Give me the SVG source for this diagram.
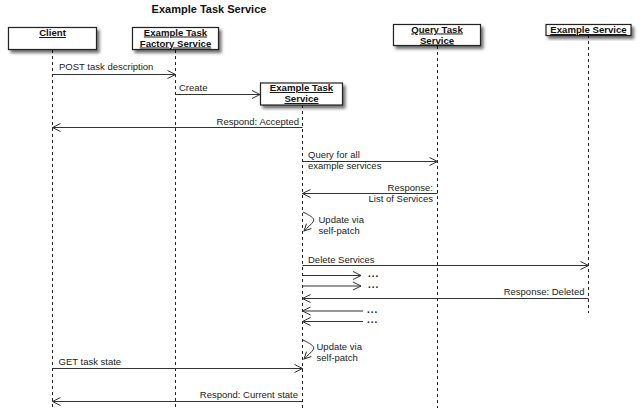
<svg xmlns="http://www.w3.org/2000/svg" width="640" height="414" viewBox="0 0 640 414">
<style>
.box{fill:#fff;stroke:#222;stroke-width:1.2;filter:url(#sh)}
.lbl{font-family:"Liberation Sans",Arial,sans-serif;font-size:9.6px;font-weight:bold;text-decoration:underline;fill:#111;text-anchor:middle}
.life{stroke:#222;stroke-width:1;stroke-dasharray:3,3;fill:none}
.msg{stroke:#333;stroke-width:1;fill:none;marker-end:url(#ah)}
.self{stroke:#333;stroke-width:1;fill:none;marker-end:url(#ahs)}
.t{font-family:"Liberation Sans",Arial,sans-serif;font-size:9.5px;fill:#222}
.r{text-anchor:end}
.dots{font-family:"Liberation Sans",Arial,sans-serif;font-size:10px;font-weight:bold;fill:#222;letter-spacing:1px}
.title{font-family:"Liberation Sans",Arial,sans-serif;font-size:11px;font-weight:bold;fill:#111;text-anchor:middle}
</style>
<defs>
<filter id="sh" x="-20%" y="-30%" width="150%" height="180%">
<feDropShadow dx="2.5" dy="3" stdDeviation="1.8" flood-color="#000" flood-opacity="0.55"/>
</filter>
<marker id="ah" markerUnits="userSpaceOnUse" viewBox="-1 -5 10 10" refX="8" refY="0" markerWidth="10" markerHeight="10" orient="auto">
<path d="M0,-4 L8,0 L0,4" fill="none" stroke="#333" stroke-width="1"/>
</marker>
<marker id="ahs" markerUnits="userSpaceOnUse" viewBox="-1 -5 10 10" refX="7" refY="0" markerWidth="10" markerHeight="10" orient="auto">
<path d="M0,-3.5 L7,0 L0,3.5" fill="none" stroke="#333" stroke-width="1"/>
</marker>
</defs>
<rect width="640" height="414" fill="#fff"/>
<text class="title" x="209" y="12.5">Example Task Service</text>

<g id="client">
<line class="life" x1="52.5" y1="50" x2="52.5" y2="409"/>
<rect class="box" x="8.5" y="27.5" width="88" height="22"/>
<text class="lbl" x="52.5" y="36">Client</text>
</g>
<g id="factory">
<line class="life" x1="175.5" y1="50" x2="175.5" y2="409"/>
<rect class="box" x="132.5" y="27.5" width="86" height="22"/>
<text class="lbl" x="175.5" y="35.5">Example Task</text>
<text class="lbl" x="175.5" y="46.5">Factory Service</text>
</g>
<g id="task-service">
<line class="life" x1="302.5" y1="105" x2="302.5" y2="408"/>
<rect class="box" x="260.5" y="83" width="82" height="22"/>
<text class="lbl" x="301.5" y="91">Example Task</text>
<text class="lbl" x="301.5" y="102">Service</text>
</g>
<g id="query-service">
<line class="life" x1="437.5" y1="46" x2="437.5" y2="408"/>
<rect class="box" x="393.5" y="24.5" width="87" height="21"/>
<text class="lbl" x="437" y="32.5">Query Task</text>
<text class="lbl" x="437" y="43.5">Service</text>
</g>
<g id="example-service">
<line class="life" x1="588.5" y1="35" x2="588.5" y2="313"/>
<rect class="box" x="546" y="24.5" width="85" height="11"/>
<text class="lbl" x="588.5" y="33">Example Service</text>
</g>

<g id="connectors">
<line class="msg" x1="52.5" y1="74.5" x2="175.5" y2="74.5"/>
<text class="t" x="59" y="70">POST task description</text>

<line class="msg" x1="175.5" y1="94.5" x2="260" y2="94.5"/>
<text class="t" x="179" y="91">Create</text>

<line class="msg" x1="302.5" y1="127.5" x2="52.5" y2="127.5"/>
<text class="t r" x="299" y="124.5">Respond: Accepted</text>

<line class="msg" x1="302.5" y1="161.5" x2="437.5" y2="161.5"/>
<text class="t" x="308" y="157.5">Query for all</text>
<text class="t" x="308" y="168.5">example services</text>

<line class="msg" x1="437.5" y1="193.5" x2="302.5" y2="193.5"/>
<text class="t r" x="433" y="190.5">Response:</text>
<text class="t r" x="433" y="201.5">List of Services</text>

<path class="self" d="M303,212 C309,215 315,218 313.5,221 C312,224 307,228 304,231"/>
<text class="t" x="318.5" y="223">Update via</text>
<text class="t" x="318.5" y="234">self-patch</text>

<line class="msg" x1="302.5" y1="265.5" x2="588.5" y2="265.5"/>
<text class="t" x="308" y="262.5">Delete Services</text>

<line class="msg" x1="302.5" y1="275.5" x2="361" y2="275.5"/>
<text class="dots" x="368" y="277">...</text>
<line class="msg" x1="302.5" y1="286" x2="361" y2="286"/>
<text class="dots" x="368" y="287.5">...</text>

<line class="msg" x1="588.5" y1="298.5" x2="302.5" y2="298.5"/>
<text class="t r" x="584.5" y="295">Response: Deleted</text>

<line class="msg" x1="363" y1="311" x2="302.5" y2="311"/>
<text class="dots" x="367" y="312.5">...</text>
<line class="msg" x1="363" y1="321.5" x2="302.5" y2="321.5"/>
<text class="dots" x="367" y="323">...</text>

<path class="self" d="M303,340 C309,343 315,346 313.5,349 C312,352 307,356 304,359"/>
<text class="t" x="316.5" y="350">Update via</text>
<text class="t" x="316.5" y="361">self-patch</text>

<line class="msg" x1="52.5" y1="368.5" x2="302.5" y2="368.5"/>
<text class="t" x="58.5" y="364.5">GET task state</text>

<line class="msg" x1="302.5" y1="401.5" x2="52.5" y2="401.5"/>
<text class="t r" x="298" y="397.5">Respond: Current state</text>
</g>
</svg>
